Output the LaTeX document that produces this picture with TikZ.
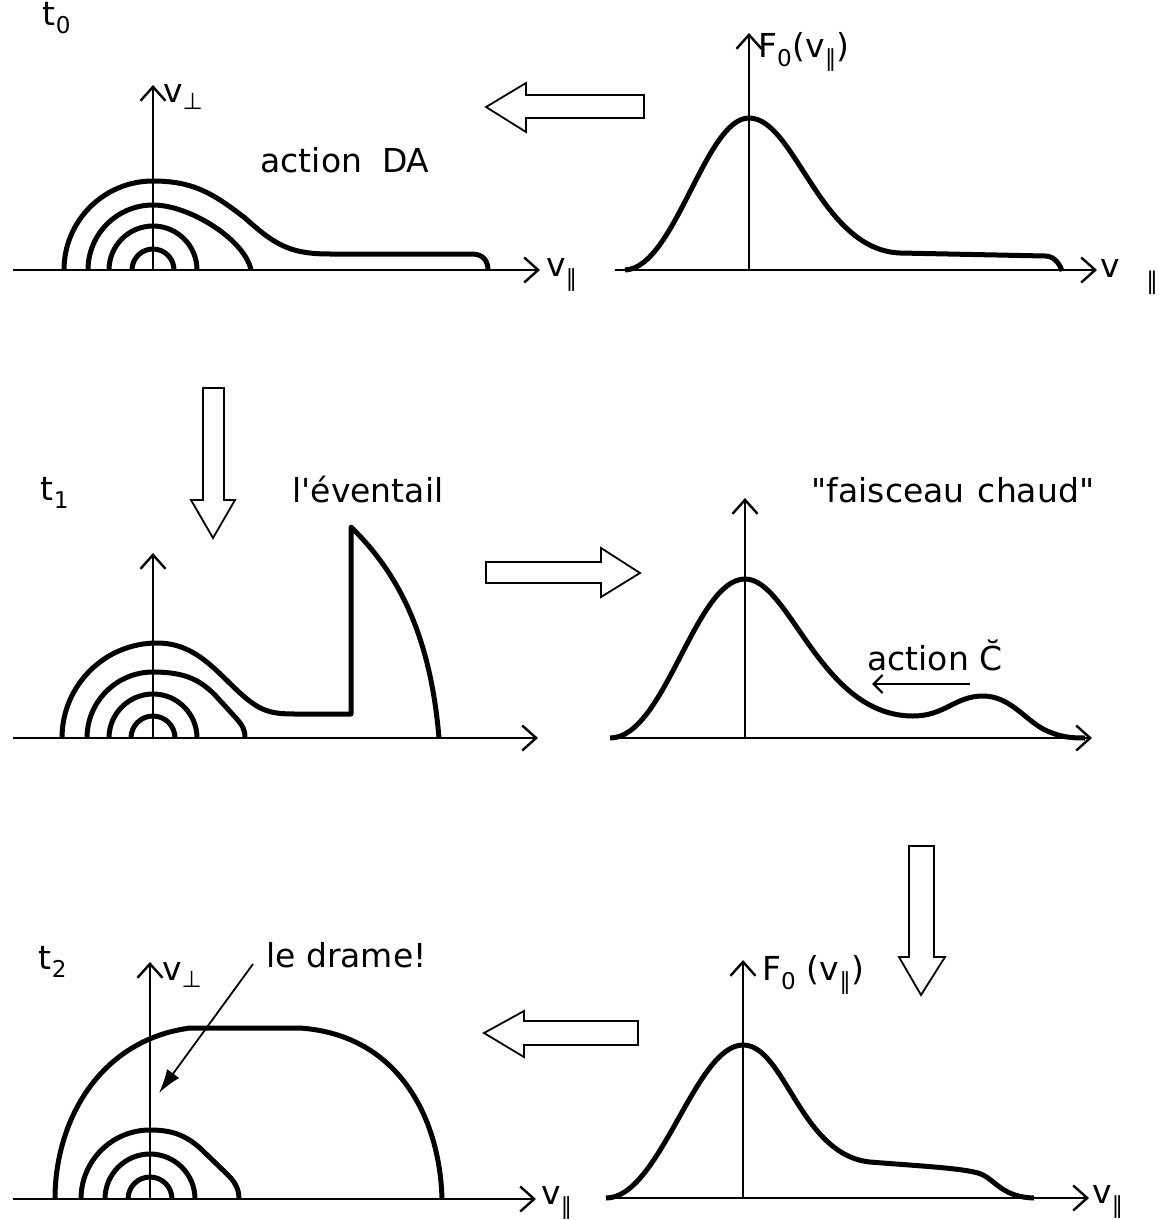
\documentclass[tikz,border=0pt]{standalone}
\usepackage{fontspec}
\setmainfont{DejaVu Sans}
\usetikzlibrary{arrows.meta}

\begin{document}
\begin{tikzpicture}[x=1pt,y=-1pt,
    axe/.style={line width=2.4pt,-{Straight Barb[length=14pt,width=25pt]}},
    courbe/.style={line width=5pt,line join=round},
    fleche/.style={line width=1.8pt,line join=miter},
    lbl/.style={inner sep=0pt,font=\fontsize{33}{40}\selectfont}]
    \useasboundingbox (0,0) rectangle (1173,1220);

    % Origins
    \coordinate (oA) at (153,270);
    \coordinate (oB) at (749,270);
    \coordinate (oC) at (153,738);
    \coordinate (oD) at (745,738);
    \coordinate (oE) at (150,1199);
    \coordinate (oF) at (743,1198);

    % t0 : v-space
    \draw[axe] (13,270) -- (540,270);
    \draw[axe] (oA) -- (153,85);
    \node[lbl] (tzero) at (57,18) {t\textsubscript{0}};
    \node[lbl,anchor=west] (vperpA) at (163,97) {v\textsubscript{⊥}};
    \node[lbl,anchor=west] (vparA) at (546,275) {v\textsubscript{∥}};
    \node[lbl] (actionDA) at (345,160) {action\hspace{0.6em}DA};
    \draw[courbe] (132,270) arc[start angle=180,end angle=360,radius=21];
    \draw[courbe] (109,270) arc[start angle=180,end angle=360,radius=44];
    \draw[courbe] (88,270) arc[start angle=180,end angle=270,radius=65]
        .. controls (190,205) and (245,240) .. (251,270);
    \draw[courbe] (64,270) arc[start angle=180,end angle=270,radius=89]
        .. controls (195,181) and (215,195) .. (245,218)
        .. controls (275,245) and (290,254) .. (330,254) -- (472,254)
        .. controls (484,254) and (488,262) .. (488,270);

    % t0 : F0
    \draw[axe] (615,270) -- (1097,270);
    \draw[axe] (oB) -- (749,33);
    \node[lbl,anchor=west] (FzeroA) at (758,52) {F\textsubscript{0}(v\textsubscript{∥})};
    \node[lbl,anchor=west] (vparB) at (1100,268) {v};
    \node[lbl,font=\fontsize{24}{28}\selectfont] (parB) at (1152,283) {∥};
    \draw[courbe] (625,270) .. controls (675,268) and (705,118) .. (749,118)
        .. controls (795,118) and (820,250) .. (900,253) -- (1045,256)
        .. controls (1055,256) and (1060,265) .. (1062,271);

    % arrows between panels
    \draw[fleche] (486,107) -- (526,83) -- (526,95) -- (644,95) -- (644,118) -- (526,118) -- (526,132) -- cycle;
    \draw[fleche] (213,538) -- (191,500) -- (203,500) -- (203,388) -- (224,388) -- (224,500) -- (235,500) -- cycle;
    \draw[fleche] (640,573) -- (601,548) -- (601,562) -- (486,562) -- (486,583) -- (601,583) -- (601,597) -- cycle;
    \draw[fleche] (921,995) -- (899,957) -- (909,957) -- (909,846) -- (934,846) -- (934,957) -- (945,957) -- cycle;
    \draw[fleche] (484,1033) -- (524,1011) -- (524,1021) -- (638,1021) -- (638,1045) -- (524,1045) -- (524,1057) -- cycle;

    % t1 : v-space
    \draw[axe] (13,738) -- (538,738);
    \draw[axe] (oC) -- (153,553);
    \node[lbl] (tone) at (55,493) {t\textsubscript{1}};
    \node[lbl] (eventail) at (368,490) {l\textquotesingle éventail};
    \draw[courbe] (131,738) arc[start angle=180,end angle=360,radius=22];
    \draw[courbe] (109,738) arc[start angle=180,end angle=360,radius=44];
    \draw[courbe] (87,738) arc[start angle=180,end angle=270,radius=66]
        .. controls (185,672) and (200,680) .. (215,695) -- (236,718)
        .. controls (243,726) and (245,730) .. (245,738);
    \draw[courbe] (62,738) arc[start angle=180,end angle=270,radius=95]
        .. controls (195,643) and (215,670) .. (240,693)
        .. controls (260,711) and (270,714) .. (295,714) -- (351,714) -- (351,527)
        .. controls (395,570) and (430,630) .. (439,738);

    % t1 : F0
    \draw[axe] (610,738) -- (1092,738);
    \draw[axe] (oD) -- (745,498);
    \node[lbl] (faisceau) at (953,490) {\textquotedbl faisceau\hspace{0.4em}chaud\textquotedbl};
    \node[lbl] (actionC) at (935,655) {action C̆};
    \coordinate (Cdep) at (970,684);
    \coordinate (Carr) at (872,684);
    \draw[line width=2.2pt,-{Straight Barb[length=9pt,width=18pt]}] (Cdep) -- (Carr);
    \draw[courbe] (610,738) .. controls (665,738) and (695,579) .. (745,579)
        .. controls (790,579) and (820,716) .. (913,716)
        .. controls (945,716) and (955,696) .. (983,696)
        .. controls (1010,696) and (1025,720) .. (1045,730)
        .. controls (1060,737) and (1070,738) .. (1085,738);

    % t2 : v-space
    \draw[axe] (13,1199) -- (536,1199);
    \draw[axe] (oE) -- (150,962);
    \node[lbl] (ttwo) at (53,962) {t\textsubscript{2}};
    \node[lbl,anchor=west] (vperpE) at (162,975) {v\textsubscript{⊥}};
    \node[lbl,anchor=west] (vparE) at (541,1203) {v\textsubscript{∥}};
    \node[lbl,anchor=west] (drame) at (266,955) {le drame!};
    \coordinate (cible) at (159,1093);
    \draw[line width=1.8pt,-{Latex[length=24pt,width=15pt]}] (253,964) -- (cible);
    \draw[courbe] (128,1199) arc[start angle=180,end angle=360,radius=22];
    \draw[courbe] (105,1199) arc[start angle=180,end angle=360,radius=45];
    \draw[courbe] (81,1199) arc[start angle=180,end angle=270,radius=69]
        .. controls (172,1130) and (185,1135) .. (200,1148) -- (228,1175)
        .. controls (236,1183) and (239,1190) .. (239,1199);
    \draw[courbe] (55,1199) .. controls (55,1120) and (100,1040) .. (190,1028) -- (300,1028)
        .. controls (400,1035) and (440,1120) .. (442,1199);

    % t2 : F0
    \draw[axe] (606,1198) -- (1089,1198);
    \draw[axe] (oF) -- (743,960);
    \node[lbl,anchor=west] (FzeroF) at (762,975) {F\textsubscript{0} (v\textsubscript{∥})};
    \node[lbl,anchor=west] (vparF) at (1092,1202) {v\textsubscript{∥}};
    \draw[courbe] (606,1198) .. controls (660,1198) and (695,1045) .. (743,1045)
        .. controls (785,1045) and (800,1155) .. (870,1162)
        .. controls (920,1166) and (960,1168) .. (978,1173)
        .. controls (995,1178) and (1000,1197) .. (1034,1198);
\end{tikzpicture}
\end{document}
